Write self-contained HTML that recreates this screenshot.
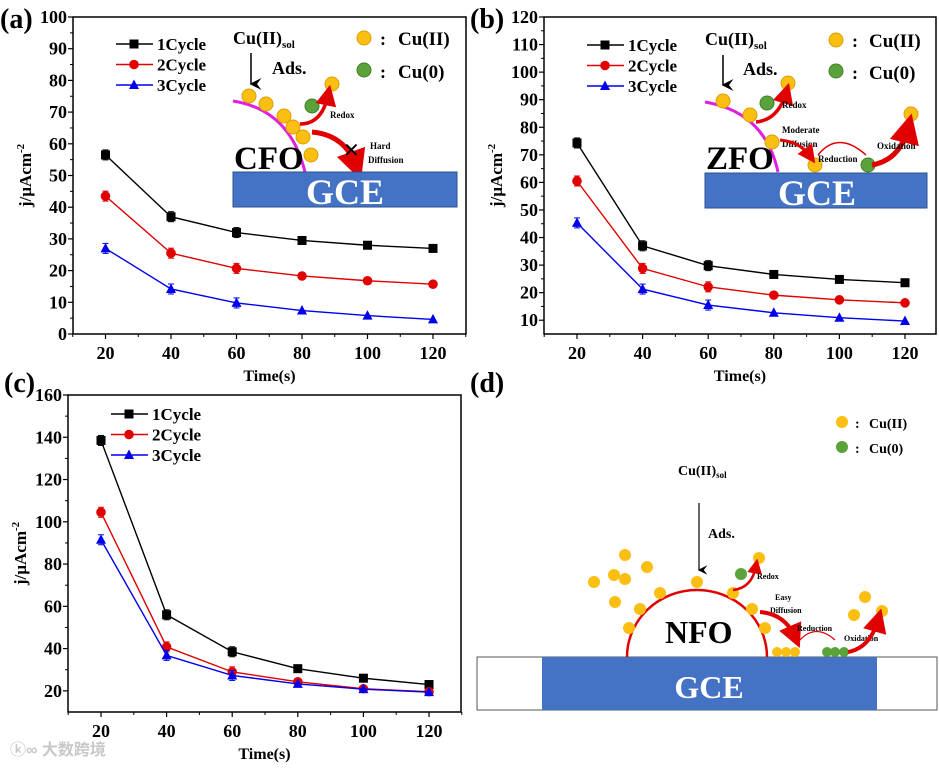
<!DOCTYPE html>
<html><head><meta charset="utf-8">
<style>
html,body{margin:0;padding:0;background:#fff;}
svg{display:block;font-family:"Liberation Serif","Noto Serif CJK SC",serif;font-weight:bold;}
</style></head>
<body>
<svg id="fig" width="939" height="768" viewBox="0 0 939 768" xmlns="http://www.w3.org/2000/svg">
<defs>
<marker id="ah" markerWidth="8" markerHeight="8" refX="4" refY="7" orient="auto"><path d="M0,0 L4,8 L8,0 L4,3 z" fill="#000"/></marker>
<marker id="rh" markerWidth="6" markerHeight="6" refX="3" refY="3" orient="auto"><path d="M0,0 L6,3 L0,6 z" fill="#e00000"/></marker>
</defs>

<text x="0" y="28" font-size="28">(a)</text>
<text x="470" y="28" font-size="28">(b)</text>
<text x="4" y="392" font-size="28">(c)</text>
<text x="470" y="392" font-size="28">(d)</text>

<g id="chartA"></g>
<g id="chartB"></g>
<g id="chartC"></g>

<g>
  <text x="233" y="44" font-size="18">Cu(II)<tspan font-size="11" dy="4">sol</tspan></text>
  <line x1="251" y1="53" x2="251" y2="84" stroke="#000" stroke-width="1.5" marker-end="url(#ah)"/>
  <text x="272" y="74" font-size="18">Ads.</text>
  <circle cx="364" cy="38" r="7" fill="#fbbf13" stroke="#d9a000"/>
  <text x="380" y="45" font-size="18">:</text>
  <text x="398" y="45" font-size="19">Cu(II)</text>
  <circle cx="364" cy="70" r="7" fill="#5aa33a" stroke="#3f7f2a"/>
  <text x="380" y="78" font-size="18">:</text>
  <text x="398" y="78" font-size="19">Cu(0)</text>
  <path d="M233,101 Q290,110 305,172" fill="none" stroke="#e020e0" stroke-width="3"/>
  <g fill="#fbbf13" stroke="#d9a000">
    <circle cx="249" cy="96" r="7"/><circle cx="266" cy="104" r="7"/><circle cx="284" cy="116" r="7"/>
    <circle cx="293" cy="127" r="7"/><circle cx="303" cy="137" r="7"/><circle cx="311" cy="155" r="7"/>
    <circle cx="332" cy="84" r="7"/>
  </g>
  <circle cx="312" cy="106" r="7" fill="#5aa33a" stroke="#3f7f2a"/>
  <path d="M300,124 Q322,124 328,95" fill="none" stroke="#e00000" stroke-width="3.5" marker-end="url(#rh)"/>
  <text x="330" y="118" font-size="9">Redox</text>
  <path d="M312,132 Q345,135 356,166" fill="none" stroke="#e00000" stroke-width="5" marker-end="url(#rh)"/>
  <text x="343" y="157" font-size="20" font-weight="normal">✕</text>
  <text x="370" y="149" font-size="9">Hard</text>
  <text x="368" y="163" font-size="9">Diffusion</text>
  <text x="234" y="169" font-size="33">CFO</text>
  <rect x="233" y="172" width="224" height="35" fill="#4472c4" stroke="#2f528f"/>
  <text x="345" y="204" font-size="36" fill="#fff" text-anchor="middle">GCE</text>
</g>

<g>
  <text x="705" y="45" font-size="18">Cu(II)<tspan font-size="11" dy="4">sol</tspan></text>
  <line x1="723" y1="55" x2="723" y2="85" stroke="#000" stroke-width="1.5" marker-end="url(#ah)"/>
  <text x="743" y="75" font-size="18">Ads.</text>
  <circle cx="836" cy="40" r="7" fill="#fbbf13" stroke="#d9a000"/>
  <text x="852" y="47" font-size="18">:</text>
  <text x="869" y="47" font-size="19">Cu(II)</text>
  <circle cx="836" cy="71" r="7" fill="#5aa33a" stroke="#3f7f2a"/>
  <text x="852" y="79" font-size="18">:</text>
  <text x="869" y="79" font-size="19">Cu(0)</text>
  <path d="M705,102 Q765,112 778,172" fill="none" stroke="#e020e0" stroke-width="3"/>
  <g fill="#fbbf13" stroke="#d9a000">
    <circle cx="723" cy="101" r="7"/><circle cx="750" cy="115" r="7"/><circle cx="772" cy="142" r="7"/>
    <circle cx="815" cy="165" r="7"/><circle cx="788" cy="83" r="7"/><circle cx="911" cy="114" r="7"/>
  </g>
  <circle cx="767" cy="103" r="7" fill="#5aa33a" stroke="#3f7f2a"/>
  <circle cx="868" cy="165" r="7" fill="#5aa33a" stroke="#3f7f2a"/>
  <path d="M756,122 Q778,120 786,93" fill="none" stroke="#e00000" stroke-width="3.5" marker-end="url(#rh)"/>
  <text x="782" y="108" font-size="9">Redox</text>
  <text x="782" y="133" font-size="9">Moderate</text>
  <text x="782" y="147" font-size="9">Diffusion</text>
  <path d="M780,140 Q800,142 810,156" fill="none" stroke="#e00000" stroke-width="3" marker-end="url(#rh)"/>
  <path d="M818,155 Q838,130 866,155" fill="none" stroke="#e00000" stroke-width="1.5"/>
  <text x="818" y="162" font-size="9">Reduction</text>
  <path d="M872,165 Q900,160 908,128" fill="none" stroke="#e00000" stroke-width="5" marker-end="url(#rh)"/>
  <text x="877" y="149" font-size="9">Oxidation</text>
  <text x="706" y="169" font-size="33">ZFO</text>
  <rect x="705" y="173" width="222" height="35" fill="#4472c4" stroke="#2f528f"/>
  <text x="817" y="205" font-size="36" fill="#fff" text-anchor="middle">GCE</text>
</g>

<g>
  <circle cx="842" cy="422" r="6" fill="#fbbf13"/>
  <text x="855" y="428" font-size="14">:</text>
  <text x="869" y="428" font-size="14">Cu(II)</text>
  <circle cx="842" cy="447" r="6" fill="#5aa33a"/>
  <text x="855" y="453" font-size="14">:</text>
  <text x="869" y="453" font-size="14">Cu(0)</text>
  <text x="678" y="475" font-size="14">Cu(II)<tspan font-size="9" dy="3">sol</tspan></text>
  <line x1="699" y1="503" x2="699" y2="570" stroke="#000" stroke-width="1.2" marker-end="url(#ah)"/>
  <text x="708" y="538" font-size="14">Ads.</text>
  <rect x="477" y="657" width="460" height="53" fill="#fff" stroke="#555"/>
  <rect x="542" y="657" width="335" height="53" fill="#4472c4"/>
  <text x="709" y="698" font-size="32" fill="#fff" text-anchor="middle">GCE</text>
  <path d="M627,657 A70,67 0 0 1 767,657" fill="none" stroke="#e00000" stroke-width="2.5"/>
  <text x="665" y="643" font-size="32">NFO</text>
  <g fill="#fbbf13">
    <circle cx="625" cy="555" r="6"/><circle cx="647" cy="567" r="6"/><circle cx="614" cy="575" r="6"/>
    <circle cx="625" cy="579" r="6"/><circle cx="594" cy="582" r="6"/><circle cx="615" cy="602" r="6"/>
    <circle cx="640" cy="609" r="6"/><circle cx="629" cy="628" r="6"/><circle cx="660" cy="593" r="6"/>
    <circle cx="697" cy="582" r="6"/><circle cx="733" cy="593" r="6"/><circle cx="752" cy="609" r="6"/>
    <circle cx="765" cy="628" r="6"/><circle cx="759" cy="558" r="6"/><circle cx="865" cy="597" r="6"/>
    <circle cx="854" cy="615" r="6"/><circle cx="882" cy="611" r="6"/>
    <circle cx="777" cy="652" r="5"/><circle cx="786" cy="652" r="5"/><circle cx="795" cy="652" r="5"/>
  </g>
  <g fill="#5aa33a">
    <circle cx="741" cy="574" r="6"/><circle cx="827" cy="652" r="5"/><circle cx="835" cy="652" r="5"/><circle cx="844" cy="652" r="5"/>
  </g>
  <path d="M733,590 Q752,588 756,566" fill="none" stroke="#e00000" stroke-width="2.5" marker-end="url(#rh)"/>
  <text x="757" y="579" font-size="8">Redox</text>
  <text x="775" y="600" font-size="8">Easy</text>
  <text x="770" y="613" font-size="8">Diffusion</text>
  <path d="M760,612 Q785,614 795,637" fill="none" stroke="#e00000" stroke-width="4" marker-end="url(#rh)"/>
  <text x="797" y="631" font-size="8">Reduction</text>
  <path d="M798,642 Q815,622 835,640" fill="none" stroke="#e00000" stroke-width="1.2"/>
  <text x="844" y="641" font-size="8">Oxidation</text>
  <path d="M848,652 Q870,648 878,620" fill="none" stroke="#e00000" stroke-width="4" marker-end="url(#rh)"/>
</g>

<text x="10" y="755" font-size="16" fill="#c8c8c8" font-family="Liberation Sans, Noto Sans CJK SC, sans-serif">ⓚ∞ 大数跨境</text>
</svg>

<script>
const timeCategories = [20, 40, 60, 80, 100, 120];
const seriesNames = ["1Cycle", "2Cycle", "3Cycle"];
const aCycle1 = [56.5, 37, 32, 29.5, 28, 27];
const aCycle2 = [43.5, 25.5, 20.7, 18.3, 16.8, 15.7];
const aCycle3 = [27, 14.2, 9.8, 7.4, 5.8, 4.6];
const bCycle1 = [74.3, 37, 29.8, 26.6, 24.8, 23.6];
const bCycle2 = [60.5, 28.8, 22.1, 19.1, 17.4, 16.3];
const bCycle3 = [45.3, 21.3, 15.5, 12.7, 10.9, 9.7];
const cCycle1 = [138.5, 56, 38.5, 30.5, 26, 23];
const cCycle2 = [104.5, 40.8, 29, 24.3, 21, 19.6];
const cCycle3 = [91.5, 36.8, 27.3, 23.3, 20.8, 19.4];
const aYTicks = [0, 10, 20, 30, 40, 50, 60, 70, 80, 90, 100];
const bYTicks = [10, 20, 30, 40, 50, 60, 70, 80, 90, 100, 110, 120];
const cYTicks = [20, 40, 60, 80, 100, 120, 140, 160];
const xTickLabels = [20, 40, 60, 80, 100, 120];

const NS = "http://www.w3.org/2000/svg";
function mk(parent, tag, attrs, text) {
  const e = document.createElementNS(NS, tag);
  for (const k in attrs) e.setAttribute(k, attrs[k]);
  if (text !== undefined) e.textContent = text;
  parent.appendChild(e);
  return e;
}

function drawChart(gid, box, yMin, yMax, yTicks, series, legY) {
  const g = document.getElementById(gid);
  const xScale = v => box.x20 + (v - 20) / 100 * (box.x120 - box.x20);
  const yScale = v => box.bottom - (v - yMin) / (yMax - yMin) * (box.bottom - box.top);
  const colors = ["#000000", "#e00000", "#0000ee"];
  const frame = mk(g, "rect", {x: box.left, y: box.top, width: box.right - box.left, height: box.bottom - box.top, fill: "none", stroke: "#000", "stroke-width": 1.5});
  
  
  yTicks.forEach(t => {
    const y = yScale(t);
    mk(g, "line", {x1: box.left - 5, x2: box.left, y1: y, y2: y, stroke: "#000", "stroke-width": 1.2});
    const lbl = mk(g, "text", {x: box.left - 6, y: y + 6, "font-size": 18, "text-anchor": "end"}, t);
    
    
  });
  for (let i = 0; i < yTicks.length - 1; i++) {
    const y = yScale((yTicks[i] + yTicks[i + 1]) / 2);
    mk(g, "line", {x1: box.left - 3, x2: box.left, y1: y, y2: y, stroke: "#000", "stroke-width": 1});
  }
  xTickLabels.forEach(t => {
    const x = xScale(t);
    mk(g, "line", {x1: x, x2: x, y1: box.bottom, y2: box.bottom + 5, stroke: "#000", "stroke-width": 1.2});
    const lbl = mk(g, "text", {x: x, y: box.bottom + 25, "font-size": 18, "text-anchor": "middle"}, t);
    
    
  });
  [10, 30, 50, 70, 90, 110, 130].forEach(t => {
    const x = xScale(t);
    if (x > box.right + 1) return;
    mk(g, "line", {x1: x, x2: x, y1: box.bottom, y2: box.bottom + 3, stroke: "#000", "stroke-width": 1});
  });
  const xt = mk(g, "text", {x: (box.left + box.right) / 2, y: box.bottom + 47, "font-size": 16, "text-anchor": "middle"}, "Time(s)");
  
  
  const yx = box.left - 42, yy = (box.top + box.bottom) / 2;
  const yt = mk(g, "text", {x: yx, y: yy, "font-size": 17, "text-anchor": "middle", transform: `rotate(-90 ${yx} ${yy})`});
  yt.textContent = "j/µAcm";
  mk(yt, "tspan", {dy: -7, "font-size": 11}, "-2");
  
  
  series.forEach((vals, si) => {
    const col = colors[si];
    const pts = vals.map((v, i) => xScale(timeCategories[i]) + "," + yScale(v)).join(" ");
    const pl = mk(g, "polyline", {points: pts, fill: "none", stroke: col, "stroke-width": 1.4});
    
    
    vals.forEach((v, i) => {
      const x = xScale(timeCategories[i]), y = yScale(v);
      if (i < 3) {
        mk(g, "line", {x1: x, x2: x, y1: y - 5, y2: y + 5, stroke: col, "stroke-width": 1});
        mk(g, "line", {x1: x - 3, x2: x + 3, y1: y - 5, y2: y - 5, stroke: col, "stroke-width": 1});
        mk(g, "line", {x1: x - 3, x2: x + 3, y1: y + 5, y2: y + 5, stroke: col, "stroke-width": 1});
      }
      let m;
      if (si === 0) m = mk(g, "rect", {x: x - 4.5, y: y - 4.5, width: 9, height: 9, fill: col});
      else if (si === 1) m = mk(g, "circle", {cx: x, cy: y, r: 4.8, fill: col});
      else m = mk(g, "polygon", {points: `${x},${y - 5.5} ${x - 5},${y + 4} ${x + 5},${y + 4}`, fill: col});
      
      
    });
    const ly = legY + si * 20.5;
    mk(g, "line", {x1: box.left + 43, x2: box.left + 80, y1: ly, y2: ly, stroke: col, "stroke-width": 1.4});
    const lx = box.left + 61;
    if (si === 0) mk(g, "rect", {x: lx - 4.5, y: ly - 4.5, width: 9, height: 9, fill: col});
    else if (si === 1) mk(g, "circle", {cx: lx, cy: ly, r: 4.8, fill: col});
    else mk(g, "polygon", {points: `${lx},${ly - 5.5} ${lx - 5},${ly + 4} ${lx + 5},${ly + 4}`, fill: col});
    const lt = mk(g, "text", {x: box.left + 84, y: ly + 6, "font-size": 17}, seriesNames[si]);
    
    
  });
}

drawChart("chartA", {left: 73, right: 466, top: 17, bottom: 334, x20: 105.5, x120: 433},
  0, 100, aYTicks, [aCycle1, aCycle2, aCycle3], 44);
drawChart("chartB", {left: 544, right: 936, top: 17, bottom: 334, x20: 577, x120: 905},
  5, 120, bYTicks, [bCycle1, bCycle2, bCycle3], 45);
drawChart("chartC", {left: 68, right: 461, top: 395, bottom: 712, x20: 101, x120: 429},
  10, 160, cYTicks, [cCycle1, cCycle2, cCycle3], 414);
</script>
</body></html>
